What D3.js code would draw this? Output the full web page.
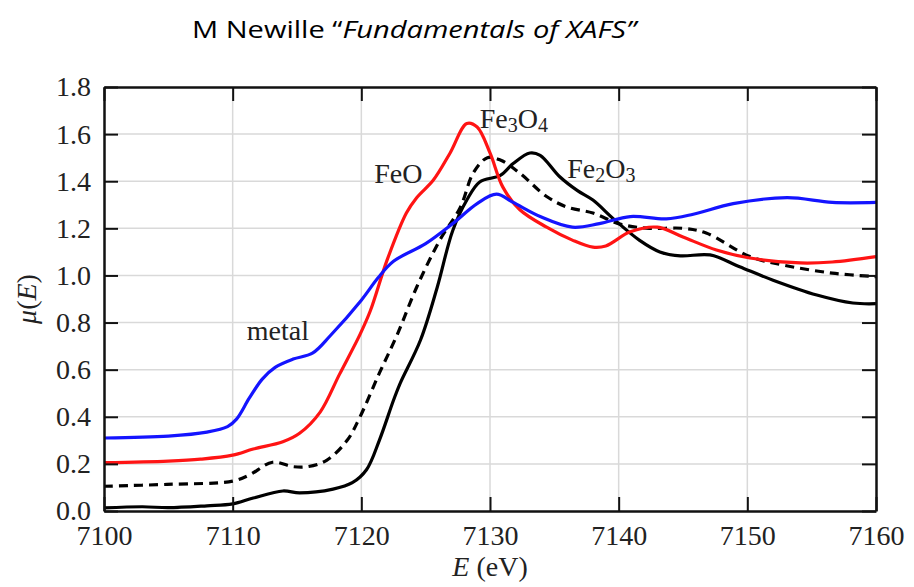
<!DOCTYPE html>
<html>
<head>
<meta charset="utf-8">
<script src="https://cdn.jsdelivr.net/npm/d3@7"></script>
<style>
body { margin: 0; background: #fff; }
svg { display: block; }
.tick text { font-family: "Liberation Serif", serif; font-size: 28px; fill: #222; }
.lbl { font-family: "Liberation Serif", serif; font-size: 28px; fill: #222; }
</style>
</head>
<body>
<svg id="chart" width="914" height="587"></svg>
<script>
// energy ticks / mu ticks
var xTicks = [7100, 7110, 7120, 7130, 7140, 7150, 7160];
var yTicks = [0.0, 0.2, 0.4, 0.6, 0.8, 1.0, 1.2, 1.4, 1.6, 1.8];

// Fe metal  [E, mu]
var metal = [[7100,0.31],[7105,0.318],[7108,0.335],[7109.6,0.358],[7110.3,0.39],[7111.3,0.48],
	[7112.3,0.56],[7113.3,0.61],[7114.7,0.645],[7116.2,0.67],[7117.6,0.745],[7120,0.895],
	[7121.3,0.99],[7122.5,1.06],[7125,1.135],[7127.1,1.22],[7129,1.305],[7130.5,1.345],
	[7131.8,1.31],[7133.9,1.25],[7136.4,1.205],[7138.5,1.22],[7140.9,1.25],[7143.7,1.24],
	[7145.8,1.26],[7148.9,1.305],[7153.1,1.33],[7156.6,1.31],[7160,1.31]];

// FeO
var feo = [[7100,0.205],[7105,0.212],[7107.5,0.22],[7110,0.237],[7111.6,0.263],[7113.9,0.294],
	[7115.2,0.33],[7116.8,0.42],[7118.3,0.58],[7119.9,0.75],[7120.7,0.85],[7122,1.065],
	[7123.5,1.265],[7124.3,1.33],[7125.6,1.405],[7126.9,1.52],[7128.2,1.645],[7129,1.63],
	[7130,1.52],[7131,1.375],[7132.3,1.28],[7134.4,1.205],[7136.4,1.15],[7138,1.12],
	[7139,1.125],[7140.9,1.185],[7143,1.205],[7145,1.163],[7147.6,1.108],[7150.2,1.074],
	[7154.1,1.053],[7156.6,1.057],[7160,1.08]];

// Fe3O4 (dashed)
var fe3o4 = [[7100,0.105],[7104.9,0.113],[7110,0.127],[7111.3,0.153],[7113.1,0.207],[7114.7,0.188],
	[7115.8,0.188],[7117.3,0.215],[7118.9,0.30],[7119.9,0.40],[7121.4,0.585],[7122.8,0.75],
	[7124.3,0.95],[7126.1,1.15],[7127.7,1.29],[7128.7,1.435],[7129.8,1.50],[7130.8,1.49],
	[7132.3,1.435],[7134.4,1.335],[7136,1.29],[7138,1.265],[7140.1,1.218],[7142.4,1.20],
	[7145,1.20],[7146.8,1.18],[7150.2,1.08],[7152.8,1.044],[7156.6,1.01],[7160,0.995]];

// Fe2O3
var fe2o3 = [[7100,0.013],[7103,0.018],[7105,0.014],[7108,0.022],[7110,0.03],[7111.6,0.055],[7113.9,0.085],[7115.2,0.077],
	[7117.8,0.093],[7119.3,0.12],[7120.4,0.175],[7121.4,0.30],[7122.5,0.47],[7123,0.54],
	[7124.6,0.726],[7125.9,0.95],[7127.1,1.19],[7128.2,1.32],[7129.2,1.397],[7130.8,1.425],
	[7131.8,1.475],[7133.1,1.52],[7133.9,1.51],[7135.4,1.42],[7136.8,1.36],[7138,1.32],
	[7139.6,1.24],[7141.6,1.15],[7143.2,1.10],[7144.8,1.083],[7147.1,1.087],[7149.4,1.037],
	[7152,0.98],[7155.4,0.917],[7158.2,0.883],[7160,0.88]];

var pLeft = 104, pRight = 876, pTop = 87, pBottom = 511;

var svg = d3.select('#chart');

var x = d3.scaleLinear().domain([7100, 7160]).range([pLeft, pRight]);
var y = d3.scaleLinear().domain([0, 1.8]).range([pBottom, pTop]);

// title
var title = svg.append('text')
	.attr('x', 192)
	.attr('y', 38)
	.style('font-family', '"Open Sans", sans-serif')
	.style('font-size', '23px')
	.style('fill', '#000');
title.append('tspan').text('M Newille \u201C');
title.append('tspan').style('font-style', 'italic').text('Fundamentals of XAFS\u201D');
title.attr('textLength', 444).attr('lengthAdjust', 'spacingAndGlyphs');

// grid
svg.append('g').selectAll('line')
		.data(xTicks.slice(1, -1))
	.enter().append('line')
		.attr('x1', function(d) { return x(d); })
		.attr('x2', function(d) { return x(d); })
		.attr('y1', pTop)
		.attr('y2', pBottom)
		.attr('stroke', '#d9d9d9')
		.attr('stroke-width', 1.5);

svg.append('g').selectAll('line')
		.data(yTicks.slice(1, -1))
	.enter().append('line')
		.attr('x1', pLeft)
		.attr('x2', pRight)
		.attr('y1', function(d) { return y(d); })
		.attr('y2', function(d) { return y(d); })
		.attr('stroke', '#d9d9d9')
		.attr('stroke-width', 1.5);

// curves
var line = d3.line()
	.x(function(d) { return x(d[0]); })
	.y(function(d) { return y(d[1]); })
	.curve(d3.curveCatmullRom.alpha(0.5));

var series = [
	{data: fe2o3, color: '#000', dash: null},
	{data: fe3o4, color: '#000', dash: '9,6'},
	{data: feo, color: '#ff1414', dash: null},
	{data: metal, color: '#1414ff', dash: null}
];

series.forEach(function(s) {
	svg.append('path')
		.datum(s.data)
		.attr('d', line)
		.attr('fill', 'none')
		.attr('stroke', s.color)
		.attr('stroke-width', 3.2)
		.attr('stroke-dasharray', s.dash);
});

// axes, ticks pointing inward
var axB = svg.append('g').attr('transform', 'translate(0,' + pBottom + ')')
	.call(d3.axisBottom(x).tickValues(xTicks).tickSizeInner(-14).tickSizeOuter(0).tickPadding(14).tickFormat(d3.format('d')));
var axL = svg.append('g').attr('transform', 'translate(' + pLeft + ',0)')
	.call(d3.axisLeft(y).tickValues(yTicks).tickSizeInner(-14).tickSizeOuter(0).tickPadding(13).tickFormat(d3.format('.1f')));
var axT = svg.append('g').attr('transform', 'translate(0,' + pTop + ')')
	.call(d3.axisTop(x).tickValues(xTicks).tickSizeInner(-14).tickSizeOuter(0).tickFormat(''));
var axR = svg.append('g').attr('transform', 'translate(' + pRight + ',0)')
	.call(d3.axisRight(y).tickValues(yTicks).tickSizeInner(-14).tickSizeOuter(0).tickFormat(''));

[axB, axL, axT, axR].forEach(function(a) {
	a.selectAll('.tick line').attr('stroke', '#111').attr('stroke-width', 2);
	a.select('.domain').attr('stroke', '#111').attr('stroke-width', 2.5);
});

// series labels
var labels = [
	{e: 7111.1, m: 0.726, parts: [['metal', 0]]},
	{e: 7121.0, m: 1.392, parts: [['FeO', 0]]},
	{e: 7129.2, m: 1.626, parts: [['Fe', 0], ['3', 1], ['O', 0], ['4', 1]]},
	{e: 7136.0, m: 1.413, parts: [['Fe', 0], ['2', 1], ['O', 0], ['3', 1]]}
];

labels.forEach(function(l) {
	var t = svg.append('text')
		.attr('class', 'lbl')
		.attr('x', x(l.e))
		.attr('y', y(l.m));
	var low = 0;
	l.parts.forEach(function(p) {
		var shift = p[1] ? 4 : 0;
		t.append('tspan')
			.attr('dy', shift - low)
			.style('font-size', p[1] ? '20px' : null)
			.text(p[0]);
		low = shift;
	});
});

// axis titles
var xl = svg.append('text')
	.attr('class', 'lbl')
	.attr('x', x(7130))
	.attr('y', 576)
	.attr('text-anchor', 'middle');
xl.append('tspan').style('font-style', 'italic').text('E');
xl.append('tspan').text(' (eV)');

var yl = svg.append('text')
	.attr('class', 'lbl')
	.attr('transform', 'translate(36,' + ((pTop + pBottom) / 2) + ') rotate(-90)')
	.attr('text-anchor', 'middle');
yl.append('tspan').style('font-style', 'italic').text('\u03BC');
yl.append('tspan').text('(');
yl.append('tspan').style('font-style', 'italic').text('E');
yl.append('tspan').text(')');
</script>
</body>
</html>
